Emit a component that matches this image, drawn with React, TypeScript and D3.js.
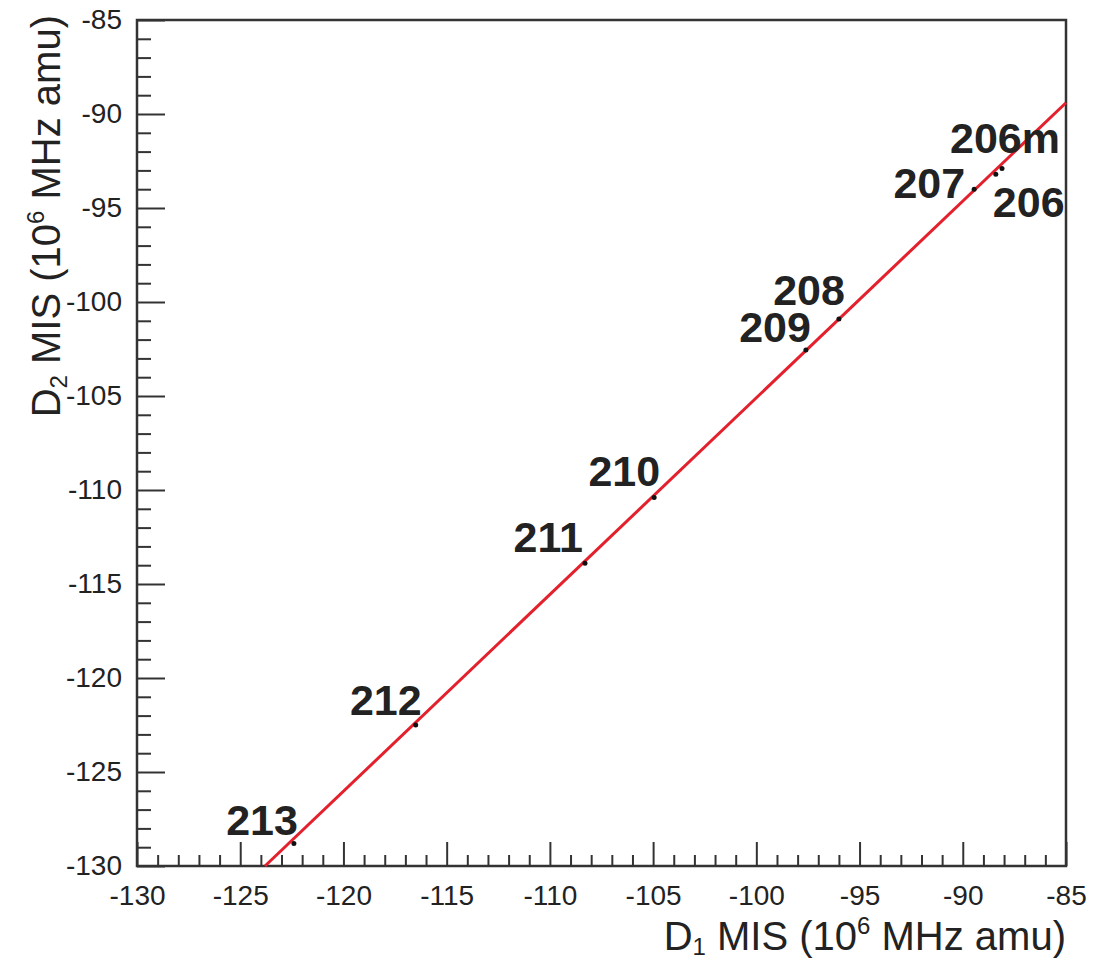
import React, { useRef, useEffect } from 'react';
import * as d3 from 'd3';

// Nuclide labels and their MIS values (10^6 MHz amu)
const nuclides = ['213', '212', '211', '210', '209', '208', '207', '206', '206m'];
const d1Values = [-122.4, -116.5, -108.3, -104.95, -97.6, -96.0, -89.45, -88.4, -88.1];
const d2Values = [-128.8, -122.5, -113.9, -110.4, -102.55, -100.9, -94.0, -93.2, -92.9];

// King-plot fit line end points (D1, D2)
const fitD1 = [-123.8, -85];
const fitD2 = [-130, -89.4];

const xTicks = [-130, -125, -120, -115, -110, -105, -100, -95, -90, -85];
const yTicks = [-130, -125, -120, -115, -110, -105, -100, -95, -90, -85];

// label placement relative to the point (px): dx, dy, anchor
const labelOffsets: [number, number, string][] = [
  [4, -8, 'end'],
  [6, -10, 'end'],
  [-2, -11, 'end'],
  [6, -12, 'end'],
  [5, -8, 'end'],
  [6, -14, 'end'],
  [-9, 9, 'end'],
  [-3, 43, 'start'],
  [58, -16, 'end'],
];

const FONT = '"Liberation Sans", Arial, Helvetica, sans-serif';

const KingPlot: React.FC<{ width?: number; height?: number }> = ({ width = 1103, height = 964 }) => {
  const svgRef = useRef<SVGSVGElement>(null);

  useEffect(() => {
    if (!svgRef.current) return;
    const svg = d3.select(svgRef.current);
    svg.selectAll('*').remove();

    const margin = { left: 137, right: 37, top: 20, bottom: 98 };
    const innerW = width - margin.left - margin.right;
    const innerH = height - margin.top - margin.bottom;

    const x = d3.scaleLinear().domain([-130, -85]).range([0, innerW]);
    const y = d3.scaleLinear().domain([-130, -85]).range([innerH, 0]);

    const g = svg.append('g').attr('transform', `translate(${margin.left},${margin.top})`);

    // minor ticks (every 1 unit)
    const minors = d3.range(-130, -84, 1).filter((v) => v % 5 !== 0);
    const fmt = (d: d3.NumberValue) => String(d); // plain hyphen minus like ROOT

    g.append('g')
      .attr('transform', `translate(0,${innerH})`)
      .call(d3.axisBottom(x).tickValues(minors).tickSize(-11).tickFormat(() => ''))
      .call((a) => a.select('.domain').remove())
      .call((a) => a.selectAll('line').attr('stroke', '#333').attr('stroke-width', 2));

    g.append('g')
      .attr('transform', `translate(0,${innerH})`)
      .call(d3.axisBottom(x).tickValues(xTicks).tickSize(-24).tickPadding(19).tickFormat(fmt))
      .call((a) => a.select('.domain').remove())
      .call((a) => a.selectAll('line').attr('stroke', '#333').attr('stroke-width', 2))
      .call((a) =>
        a.selectAll('text').attr('font-family', FONT).attr('font-size', 28).attr('fill', '#222')
      );

    g.append('g')
      .call(d3.axisLeft(y).tickValues(minors).tickSize(-14).tickFormat(() => ''))
      .call((a) => a.select('.domain').remove())
      .call((a) => a.selectAll('line').attr('stroke', '#333').attr('stroke-width', 2));

    g.append('g')
      .call(d3.axisLeft(y).tickValues(yTicks).tickSize(-28).tickPadding(15).tickFormat(fmt))
      .call((a) => a.select('.domain').remove())
      .call((a) => a.selectAll('line').attr('stroke', '#333').attr('stroke-width', 2))
      .call((a) =>
        a.selectAll('text').attr('font-family', FONT).attr('font-size', 28).attr('fill', '#222')
      );

    // frame
    g.append('rect')
      .attr('width', innerW)
      .attr('height', innerH)
      .attr('fill', 'none')
      .attr('stroke', '#333')
      .attr('stroke-width', 2.5);

    // fit line
    const line = d3.line<number>()
      .x((_, i) => x(fitD1[i]))
      .y((_, i) => y(fitD2[i]));
    g.append('path')
      .attr('d', line(fitD1))
      .attr('fill', 'none')
      .attr('stroke', '#e3202c')
      .attr('stroke-width', 3);

    // data points
    g.selectAll('.pt')
      .data(nuclides)
      .enter()
      .append('circle')
      .attr('class', 'pt')
      .attr('cx', (_, i) => x(d1Values[i]))
      .attr('cy', (_, i) => y(d2Values[i]))
      .attr('r', 2.5)
      .attr('fill', '#111');

    // labels
    g.selectAll('.lbl')
      .data(nuclides)
      .enter()
      .append('text')
      .attr('class', 'lbl')
      .attr('x', (_, i) => x(d1Values[i]) + labelOffsets[i][0])
      .attr('y', (_, i) => y(d2Values[i]) + labelOffsets[i][1])
      .attr('text-anchor', (_, i) => labelOffsets[i][2])
      .attr('font-family', FONT)
      .attr('font-weight', 'bold')
      .attr('font-size', 43)
      .attr('fill', '#222')
      .text((d) => d);

    // x axis title
    const xt = svg.append('text')
      .attr('x', margin.left + innerW)
      .attr('y', 950)
      .attr('text-anchor', 'end')
      .attr('font-family', FONT)
      .attr('font-size', 40)
      .attr('fill', '#222');
    xt.append('tspan').text('D');
    xt.append('tspan').attr('font-size', 24).attr('dy', 5).text('1');
    xt.append('tspan').attr('dy', -5).text(' MIS (10');
    xt.append('tspan').attr('font-size', 24).attr('dy', -16).text('6');
    xt.append('tspan').attr('dy', 16).text(' MHz amu)');

    // y axis title
    const yt = svg.append('text')
      .attr('transform', `translate(60,${margin.top - 5}) rotate(-90)`)
      .attr('text-anchor', 'end')
      .attr('font-family', FONT)
      .attr('font-size', 40)
      .attr('fill', '#222');
    yt.append('tspan').text('D');
    yt.append('tspan').attr('font-size', 24).attr('dy', 7).text('2');
    yt.append('tspan').attr('dy', -7).text(' MIS (10');
    yt.append('tspan').attr('font-size', 24).attr('dy', -16).text('6');
    yt.append('tspan').attr('dy', 16).text(' MHz amu)');
  }, [width, height]);

  return (
    <svg
      ref={svgRef}
      width={width}
      height={height}
      style={{ position: 'absolute', left: 0, top: 0, background: '#fff' }}
    ></svg>
  );
};

export default function App() {
  return <KingPlot />;
}
